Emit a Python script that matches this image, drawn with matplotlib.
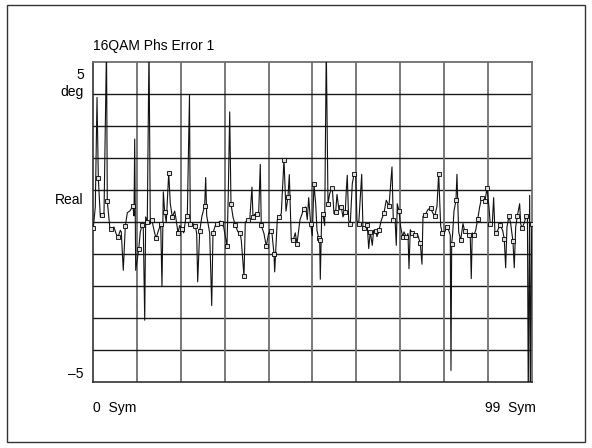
import matplotlib
matplotlib.use('Agg')
import matplotlib.pyplot as plt
from matplotlib.patches import Rectangle

plt.rcParams['font.family'] = ['Liberation Sans', 'DejaVu Sans']

# Traza de error de fase (simbolos en x, grados en y)
trace_x = [
    0.0, 0.45, 0.84, 1.13, 1.58, 1.96, 2.42, 2.98, 3.16, 3.77,
    4.0, 4.67, 5.13, 5.58, 6.1, 6.32, 6.77, 7.23, 7.68, 8.22,
    8.96, 9.19, 9.35, 9.57, 10.25, 10.61, 11.0, 11.29, 11.61, 11.83,
    12.19, 12.58, 12.87, 13.25, 13.71, 14.16, 14.61, 15.22, 15.51, 15.81,
    16.12, 16.48, 17.03, 17.39, 17.84, 18.38, 18.61, 19.13, 19.51, 20.03,
    20.41, 20.86, 21.23, 21.72, 21.9, 22.51, 23.03, 23.35, 23.57, 24.03,
    24.54, 25.15, 25.38, 25.61, 26.28, 26.74, 27.03, 27.55, 28.0, 28.68,
    28.9, 29.44, 30.19, 30.48, 30.8, 31.09, 31.54, 32.0, 32.67, 33.13,
    33.42, 34.03, 34.32, 34.93, 35.32, 35.83, 36.06, 36.44, 37.03, 37.35,
    37.71, 37.93, 38.54, 39.06, 39.61, 40.06, 40.35, 40.8, 40.96, 41.55,
    42.0, 42.45, 43.06, 43.51, 43.96, 44.26, 44.71, 45.16, 45.61, 46.0,
    46.67, 47.12, 47.58, 47.96, 48.32, 48.64, 49.09, 49.45, 49.83, 50.22,
    50.51, 50.9, 51.12, 51.26, 51.57, 51.87, 52.25, 52.61, 53.0, 53.38,
    53.97, 54.35, 54.73, 55.03, 55.48, 56.0, 56.38, 56.9, 57.13, 57.35,
    57.67, 58.03, 58.48, 58.87, 59.25, 59.54, 59.93, 60.61, 60.9, 61.06,
    61.51, 61.87, 62.19, 62.55, 63.0, 63.31, 63.77, 64.06, 64.51, 65.03,
    65.64, 66.16, 66.54, 66.77, 67.45, 67.74, 68.19, 68.42, 68.64, 69.03,
    69.41, 69.86, 70.16, 70.68, 71.06, 71.29, 71.58, 71.96, 72.41, 72.71,
    73.16, 73.84, 74.22, 74.45, 74.97, 75.58, 76.19, 76.55, 77.09, 77.61,
    77.99, 78.44, 78.8, 79.19, 79.87, 80.25, 80.61, 80.77, 80.93, 81.15,
    81.45, 81.9, 82.12, 82.51, 82.96, 83.48, 83.86, 84.22, 84.77, 85.13,
    85.35, 85.58, 85.96, 86.35, 86.8, 87.25, 87.7, 87.99, 88.45, 88.9,
    89.35, 89.64, 90.1, 90.41, 90.7, 90.93, 91.31, 91.83, 92.44, 92.8,
    93.12, 93.41, 93.87, 94.25, 94.77, 95.06, 95.38, 95.74, 96.28, 96.51,
    96.8, 97.25, 97.77, 98.04, 98.22, 98.54, 98.68, 99.0,
]
trace_y = [
    -0.18, 0.48, 3.9, 1.4, 0.17, 0.22, 0.3, 5.5, 0.66, -0.22,
    -0.2, -0.15, -0.35, -0.46, -0.25, -0.3, -1.5, -0.12, 0.3, 0.35,
    0.5, 0.2, 2.6, -1.5, -0.85, -0.3, -0.1, -0.2, -3.06, 0.17,
    0.0, 5.5, -0.05, 0.06, -0.25, -0.5, -0.3, -0.06, -2.0, 0.95,
    0.32, 0.0, 1.55, 0.58, 0.17, 0.35, 0.17, -0.33, -0.1, -0.2,
    -0.33, 0.1, 0.19, 3.97, -0.06, -0.04, -0.12, -0.35, -1.86, -0.27,
    0.2, 0.51, 1.4, 0.2, -0.33, -2.6, -0.33, -0.1, -0.04, 0.04,
    -0.01, -0.15, -0.73, 0.85, 3.45, 0.58, 0.17, -0.07, -0.3, -0.32,
    -0.56, -1.69, 0.0, 0.08, 0.06, 1.1, 0.17, 0.25, 0.25, 0.32,
    1.81, -0.1, -0.35, -0.75, -0.33, -0.28, -0.35, -0.98, -1.55, 0.08,
    0.17, 0.27, 1.96, 0.35, 0.79, 1.49, -0.56, -0.56, -0.33, -0.67,
    0.08, 0.25, 0.43, 0.48, 0.08, 0.77, -0.06, -0.42, 1.19, 0.58,
    -0.25, -0.5, -0.56, -1.78, 0.17, 0.25, -0.1, 5.5, 0.58, 0.9,
    1.07, 0.27, 0.32, 0.87, 0.38, 0.48, 0.17, 0.32, 1.0, 1.47,
    0.06, -0.06, 1.2, 1.5, 1.52, 0.06, -0.06, 1.5, -0.24, -0.18,
    -0.12, -0.1, -0.82, -0.3, -0.72, -0.25, -0.28, -0.45, -0.25, 0.06,
    0.29, 0.69, 0.58, 0.5, 1.73, 0.08, -0.04, -0.72, 0.58, 0.35,
    -0.15, -0.46, -0.3, -0.46, -0.35, -1.45, -0.23, -0.33, -0.4, -0.4,
    -0.35, -0.65, -1.31, 0.19, 0.24, 0.4, 0.45, 0.32, 0.19, 0.5,
    1.52, -0.1, -0.35, -0.35, -0.15, -0.25, -0.4, -4.63, -0.67, -0.35,
    0.35, 0.69, 1.5, -0.3, -0.56, -0.04, -0.28, -0.3, -0.4, -0.46,
    -1.76, -0.33, -0.4, -0.25, 0.09, 0.48, 0.77, 0.69, 0.66, 1.07,
    0.48, -0.06, -0.04, 0.77, -0.33, -0.35, -0.25, -0.1, -0.25, -0.51,
    -1.42, -0.15, 0.2, -0.04, -0.6, -1.42, -0.15, 0.19, 0.58, -0.04,
    -0.18, -0.04, 0.19, 0.15, -5.5, 0.84, -5.5, -0.04,
]
# 1 = punto de simbolo (marcador cuadrado)
is_sym = [
    1, 0, 0, 1, 0, 1, 0, 0, 1, 0,
    1, 0, 0, 1, 0, 0, 0, 1, 0, 0,
    1, 0, 0, 0, 1, 0, 1, 0, 0, 0,
    1, 0, 0, 1, 0, 1, 0, 1, 0, 0,
    1, 0, 1, 0, 1, 0, 0, 1, 0, 1,
    0, 0, 1, 0, 1, 0, 1, 0, 0, 1,
    0, 1, 0, 0, 0, 0, 1, 0, 1, 0,
    1, 0, 1, 0, 0, 1, 0, 1, 0, 1,
    0, 1, 0, 1, 0, 0, 1, 0, 1, 0,
    0, 1, 0, 1, 0, 1, 0, 1, 0, 0,
    1, 0, 1, 0, 1, 0, 0, 1, 0, 1,
    0, 0, 1, 0, 0, 0, 1, 0, 1, 0,
    0, 1, 1, 0, 0, 1, 0, 0, 1, 0,
    1, 0, 1, 0, 0, 1, 0, 1, 0, 0,
    0, 1, 0, 1, 0, 0, 1, 0, 0, 1,
    0, 1, 0, 1, 0, 0, 1, 0, 1, 0,
    1, 0, 0, 1, 0, 1, 0, 0, 0, 1,
    0, 1, 0, 1, 0, 0, 0, 1, 0, 1,
    0, 1, 0, 0, 1, 0, 1, 0, 1, 0,
    1, 0, 1, 0, 1, 0, 0, 0, 1, 0,
    0, 1, 0, 0, 1, 0, 1, 0, 1, 0,
    0, 0, 1, 0, 1, 0, 1, 0, 1, 1,
    0, 1, 0, 0, 0, 1, 0, 1, 0, 1,
    0, 0, 1, 0, 1, 0, 0, 1, 0, 0,
    1, 0, 1, 0, 0, 0, 0, 1,
]

sym_x = [x for x, m in zip(trace_x, is_sym) if m]
sym_y = [y for y, m in zip(trace_y, is_sym) if m]

fig = plt.figure(figsize=(5.92, 4.48), dpi=100)

# marco exterior
fig.patches.append(Rectangle((7 / 592, 1 - 442 / 448), 578 / 592, 437 / 448,
                             transform=fig.transFigure, fill=False,
                             edgecolor='#333333', linewidth=1.0))

ax = fig.add_axes([93.3 / 592, 1 - 382.3 / 448, 438.4 / 592, 320 / 448])
ax.set_xlim(0, 99)
ax.set_ylim(-5, 5)

# reticula 10 x 10
for i in range(1, 10):
    ax.axvline(99 * i / 10, color='#6e6e6e', linewidth=1.3, zorder=1)
    ax.axhline(-5 + i, color='#1a1a1a', linewidth=1.0, zorder=1)

ax.plot(trace_x, trace_y, color='#111111', linewidth=0.8, zorder=3)
ax.plot(sym_x, sym_y, linestyle='none', marker='s', markersize=2.2,
        markerfacecolor='#dddddd', markeredgecolor='black',
        markeredgewidth=0.6, zorder=4)

ax.set_xticks([])
ax.set_yticks([])
for lado in ['left', 'bottom']:
    ax.spines[lado].set_color('#333333')
    ax.spines[lado].set_linewidth(1.2)
for lado in ['top', 'right']:
    ax.spines[lado].set_color('#6e6e6e')
    ax.spines[lado].set_linewidth(1.3)

fs = 10
fig.text(93 / 592, 1 - 46 / 448, '16QAM Phs Error 1', fontsize=fs,
         ha='left', va='center')
fig.text(84 / 592, 1 - 75 / 448, '5', fontsize=fs, ha='right', va='center')
fig.text(84 / 592, 1 - 92 / 448, 'deg', fontsize=fs, ha='right', va='center')
fig.text(84 / 592, 1 - 200 / 448, 'Real', fontsize=fs, ha='right', va='center')
fig.text(84 / 592, 1 - 374 / 448, '\u20135', fontsize=fs, ha='right', va='center')
fig.text(93 / 592, 1 - 408 / 448, '0  Sym', fontsize=fs, ha='left', va='center')
fig.text(536 / 592, 1 - 408 / 448, '99  Sym', fontsize=fs, ha='right', va='center')

fig.savefig('out.png', dpi=100)
